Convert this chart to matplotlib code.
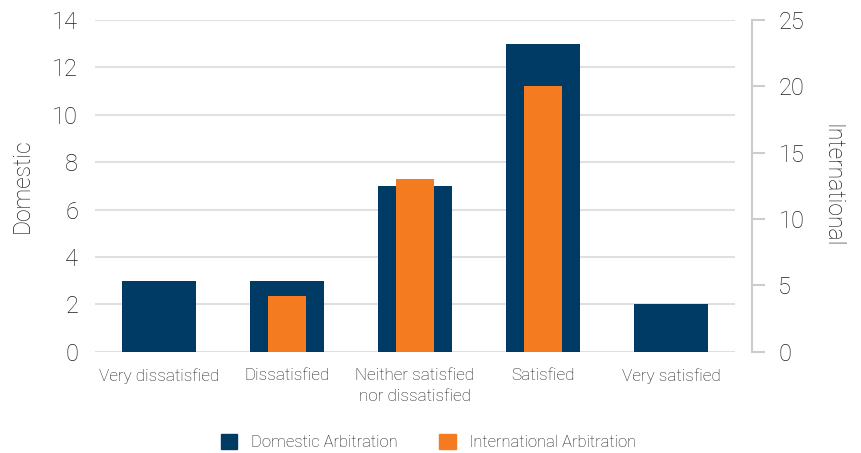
import matplotlib
matplotlib.use("Agg")
import matplotlib.pyplot as plt
from matplotlib.patches import Patch

categories = ["Very dissatisfied", "Dissatisfied", "Neither satisfied\nnor dissatisfied",
              "Satisfied", "Very satisfied"]
domestic = [3, 3, 7, 13, 2]
international = [0, 4.2, 13, 20, 0]
left_ticks = [0, 2, 4, 6, 8, 10, 12, 14]
right_ticks = [0, 5, 10, 15, 20, 25]

navy = "#003B66"
orange = "#F47B20"
text_c = "#1E1E1E"
grid_c = "#E0E0E0"
spine_c = "#CCCCCC"

plt.rcParams["font.family"] = ["Roboto", "DejaVu Sans"]
plt.rcParams["font.weight"] = "light"
plt.rcParams["axes.labelweight"] = "light"

fig = plt.figure(figsize=(8.62, 4.53), dpi=100)
ax = fig.add_axes([0.110, 0.2236, 0.743, 0.7324])
ax2 = ax.twinx()

x = list(range(len(categories)))
ax.bar(x, domestic, width=0.58, color=navy, zorder=3)
ax2.bar(x, international, width=0.30, color=orange, zorder=3)

ax.set_xlim(-0.5, 4.5)
ax.set_ylim(0, 14)
ax2.set_ylim(0, 25)
ax.set_yticks(left_ticks)
ax2.set_yticks(right_ticks)

ax.yaxis.grid(True, color=grid_c, linewidth=1.5, zorder=0)
ax.set_axisbelow(True)

for a in (ax, ax2):
    for s in ("top", "left", "bottom"):
        a.spines[s].set_visible(False)
ax.spines["right"].set_visible(False)
ax2.spines["right"].set_position(("outward", 12))
ax2.spines["right"].set_color(spine_c)
ax2.spines["right"].set_linewidth(1.5)
ax2.spines["right"].set_bounds(0, 25)

ax.tick_params(axis="y", length=0, pad=12, labelsize=17, labelcolor=text_c)
ax2.tick_params(axis="y", length=9, width=1.5, color=spine_c, pad=10,
                labelsize=17, labelcolor=text_c)
ax.set_xticks(x)
ax.set_xticklabels(categories, fontsize=12.3, color=text_c, linespacing=1.45)
ax.tick_params(axis="x", length=0, pad=12)

ax.set_ylabel("Domestic", fontsize=16.5, color=text_c, labelpad=13)
ax2.set_ylabel("International", fontsize=16.5, color=text_c, rotation=270, labelpad=28)

handles = [Patch(color=navy, label="Domestic Arbitration"),
           Patch(color=orange, label="International Arbitration")]
fig.legend(handles=handles, loc="lower center", bbox_to_anchor=(0.497, -0.027),
           ncol=2, frameon=False, fontsize=12, handlelength=1.0, handleheight=1.0,
           columnspacing=2.5, handletextpad=0.8, labelcolor=text_c)

fig.savefig("out.png", dpi=100)
